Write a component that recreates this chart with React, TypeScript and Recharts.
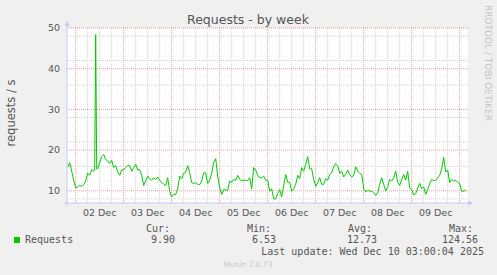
import React from 'react';
import { LineChart, Line, XAxis, YAxis, CartesianGrid } from 'recharts';

// x axis: hours counted from 02 Dec 00:00
const DAY_LABELS = ['02 Dec', '03 Dec', '04 Dec', '05 Dec', '06 Dec', '07 Dec', '08 Dec', '09 Dec'];
const DAY_LABEL_HOURS = [12, 36, 60, 84, 108, 132, 156, 180];
const MIDNIGHT_HOURS = [0, 24, 48, 72, 96, 120, 144, 168, 192];
const SIX_HOUR_MARKS = [
    6, 12, 18, 30, 36, 42, 54, 60, 66, 78, 84, 90, 102, 108, 114,
    126, 132, 138, 150, 156, 162, 174, 180, 186,
];
const X_DOMAIN = [-4.35, 196.15];

const Y_MAJOR = [10, 20, 30, 40, 50];
const Y_MINOR = [8, 12, 14, 16, 18, 22, 24, 26, 28, 32, 34, 36, 38, 42, 44, 46, 48];
const Y_DOMAIN = [7, 50];

// hourly averages, first value at hour -4 (01 Dec 20:00)
const START_HOUR = -4;
const REQUESTS = [
    15.8, 16.9, 14.8, 12.6, 10.7, 11.0, 11.3, 11.1, 11.5, 12.4, 14.3, 13.8, 15.2, 14.8,
    48.4, 15.4, 16.9, 18.4, 18.9, 17.7, 17.3, 16.7, 17.5, 15.7, 16.2, 14.6, 13.8, 15.1,
    15.2, 15.7, 16.2, 16.2, 14.8, 15.7, 16.5, 15.1, 15.2, 13.8, 11.3, 12.4, 13.6, 13.0,
    12.6, 13.2, 12.8, 13.4, 12.5, 12.1, 11.6, 11.3, 13.2, 9.9, 8.5, 9.1, 9.1, 10.5, 13.6,
    13.0, 14.3, 14.6, 16.2, 14.4, 12.0, 11.8, 12.0, 11.6, 11.5, 12.4, 14.4, 14.4, 11.8,
    12.6, 14.4, 17.0, 17.9, 13.6, 10.7, 9.1, 10.3, 10.2, 10.1, 12.4, 12.1, 12.8, 12.6, 13.8,
    12.8, 12.5, 12.6, 12.6, 12.5, 13.2, 10.5, 15.7, 15.1, 13.8, 13.2, 13.2, 13.6, 12.6,
    12.6, 9.9, 10.5, 8.0, 8.0, 9.3, 10.3, 8.5, 11.3, 14.0, 12.1, 12.1, 9.9, 10.5, 11.6,
    13.8, 13.0, 15.7, 14.8, 16.5, 18.4, 15.4, 15.4, 12.8, 11.1, 12.0, 13.2, 11.6, 11.6,
    13.0, 12.6, 14.0, 14.4, 15.9, 16.7, 16.2, 14.3, 14.8, 13.4, 14.0, 15.1, 14.0, 13.4, 13.8,
    15.9, 14.8, 14.3, 14.0, 10.5, 9.7, 10.1, 9.9, 9.9, 9.5, 8.9, 9.5, 11.6, 13.2,
    11.6, 9.9, 11.0, 12.8, 12.4, 13.2, 14.8, 12.1, 11.3, 12.8, 14.0, 12.6, 14.8, 10.7, 10.3,
    9.0, 9.3, 10.7, 11.8, 10.5, 11.0, 9.1, 10.3, 11.8, 12.8, 12.5, 12.5, 13.2, 13.8,
    15.4, 18.2, 14.6, 15.1, 12.0, 12.8, 12.4, 12.6, 12.1, 11.8, 9.9, 9.9, 10.2,
];
// half-hour samples on each side of the spike
const SPIKE_EDGES = [
    { hour: 9.5, value: 15.1 },
    { hour: 10.5, value: 15.4 },
];

const LEGEND_STATS = [
    { label: 'Cur:', value: '9.90', x: 175 },
    { label: 'Min:', value: '6.53', x: 276 },
    { label: 'Avg:', value: '12.73', x: 377 },
    { label: 'Max:', value: '124.56', x: 478 },
];

const data = REQUESTS.map((v, i) => ({ hour: START_HOUR + i, value: v }))
    .concat(SPIKE_EDGES)
    .sort((a, b) => a.hour - b.hour);

const SANS = 'DejaVu Sans, sans-serif';
const MONO = 'DejaVu Sans Mono, monospace';
const TEXT = '#555555';
const AXIS = '#c8c8f8';

export default function App() {
    return (
        <div style={{ position: 'relative', width: 497, height: 275, background: '#f0f0f0' }}>
            <style>{'body { margin: 0; }'}</style>
            <LineChart
                width={497}
                height={275}
                data={data}
                margin={{ top: 28, right: 29, left: 0, bottom: 42 }}
            >
                <CartesianGrid
                    horizontalValues={Y_MINOR}
                    verticalValues={SIX_HOUR_MARKS}
                    stroke="#cfcfcf"
                    strokeDasharray="1 1"
                    fill="#ffffff"
                    fillOpacity={1}
                />
                <CartesianGrid
                    horizontalValues={Y_MAJOR}
                    verticalValues={MIDNIGHT_HOURS}
                    stroke="#e99c9c"
                    strokeDasharray="1 1"
                />
                <XAxis
                    dataKey="hour"
                    type="number"
                    domain={X_DOMAIN}
                    allowDataOverflow
                    ticks={DAY_LABEL_HOURS}
                    tickFormatter={(h: number) => DAY_LABELS[DAY_LABEL_HOURS.indexOf(h)]}
                    axisLine={false}
                    tickLine={false}
                    tickSize={0}
                    tickMargin={6}
                    interval={0}
                    height={30}
                    tick={{ fontSize: 9.5, fill: TEXT, fontFamily: SANS }}
                />
                <YAxis
                    type="number"
                    domain={Y_DOMAIN}
                    allowDataOverflow
                    ticks={Y_MAJOR}
                    width={67}
                    axisLine={false}
                    tickLine={false}
                    tickSize={0}
                    tickMargin={7}
                    tick={{ fontSize: 9.5, fill: TEXT, fontFamily: SANS }}
                />
                <Line
                    type="linear"
                    dataKey="value"
                    stroke="#00cc00"
                    strokeWidth={1}
                    dot={false}
                    isAnimationActive={false}
                />
            </LineChart>

            <svg
                width={497}
                height={275}
                style={{ position: 'absolute', left: 0, top: 0, pointerEvents: 'none' }}
            >
                {/* axes with arrows */}
                <line x1={67} y1={206} x2={67} y2={24} stroke={AXIS} strokeWidth={1} />
                <polygon points="64.5,26 69.5,26 67,21" fill={AXIS} />
                <line x1={64} y1={203} x2={470} y2={203} stroke={AXIS} strokeWidth={1} />
                <polygon points="468,200.5 468,205.5 473,203" fill={AXIS} />

                <text x={248} y={23.5} textAnchor="middle" fontFamily={SANS} fontSize={12.5} fill={TEXT}>
                    Requests - by week
                </text>
                <text
                    transform="translate(15,113) rotate(-90)"
                    textAnchor="middle"
                    fontFamily={SANS}
                    fontSize={11.5}
                    fill={TEXT}
                >
                    requests / s
                </text>
                <text
                    transform="translate(485,5) rotate(90)"
                    fontFamily={SANS}
                    fontSize={9}
                    fill="#c4c4c4"
                >
                    RRDTOOL / TOBI OETIKER
                </text>

                {/* legend */}
                <rect x={14} y={237} width={6} height={6} fill="#00cc00" />
                <text x={25} y={243.3} fontFamily={MONO} fontSize={10} fill={TEXT}>
                    Requests
                </text>
                {LEGEND_STATS.map(s => (
                    <g key={s.label}>
                        <text x={s.x - 5} y={231.7} textAnchor="end" fontFamily={MONO} fontSize={10} fill={TEXT}>
                            {s.label}
                        </text>
                        <text x={s.x} y={243.3} textAnchor="end" fontFamily={MONO} fontSize={10} fill={TEXT}>
                            {s.value}
                        </text>
                    </g>
                ))}
                <text x={484} y={255} textAnchor="end" fontFamily={MONO} fontSize={10} fill={TEXT}>
                    Last update: Wed Dec 10 03:00:04 2025
                </text>
                <text x={248} y={267.3} textAnchor="middle" fontFamily={SANS} fontSize={7.5} fill="#c8c8c8">
                    Munin 2.0.73
                </text>
            </svg>
        </div>
    );
}
